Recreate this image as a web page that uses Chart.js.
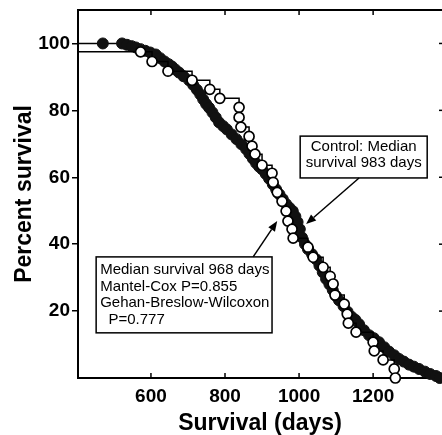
<!DOCTYPE html>
<html>
<head>
<meta charset="utf-8">
<script src="https://cdn.jsdelivr.net/npm/chart.js@4.4.1/dist/chart.umd.min.js"></script>
<style>
	html, body { margin: 0; padding: 0; background: #fff; }
	#survChart { display: block; }
</style>
</head>
<body>
<canvas id="survChart" width="442" height="435"></canvas>
<script>
// control group (filled circles), days / percent survival
const controlDays = [0, 470, 522, 535, 548, 559, 572, 585, 598, 613, 625, 637, 648, 657, 666, 676, 688, 703, 714, 724,
	733, 741, 749, 757, 766, 775, 784, 795, 805, 818, 831, 844, 857, 866, 875, 884, 892, 900, 910, 919,
	929, 938, 947, 956, 965, 974, 983, 990, 996, 1002, 1008, 1016, 1024, 1035, 1046, 1055, 1064, 1073, 1082, 1091,
	1100, 1108, 1120, 1131, 1142, 1152, 1162, 1175, 1189, 1202, 1216, 1230, 1243, 1257, 1270, 1283, 1297, 1310, 1324, 1340,
	1354, 1370, 1380];
const controlSurvival = [100, 100, 100, 99.6, 99.2, 98.8, 98.3, 97.8, 97.3, 96.7, 95.6, 94.6, 93.8, 93.1, 92.2, 91.3, 90.2, 89.0, 87.6, 86.2,
	84.8, 83.3, 81.9, 80.8, 79.4, 77.9, 76.4, 75.3, 74.3, 72.8, 71.4, 69.9, 68.4, 67.0, 65.6, 64.2, 63.2, 62.4, 61.0, 59.6,
	57.9, 56.4, 54.9, 53.5, 52.0, 50.9, 49.9, 48.3, 46.6, 44.5, 42.0, 40.0, 38.5, 37.0, 35.5, 33.6, 31.6, 29.6, 28.0, 26.3,
	24.5, 23.2, 21.5, 19.8, 18.3, 17.4, 16.1, 14.3, 12.8, 11.9, 10.7, 9.2, 7.9, 6.8, 5.7, 4.9, 4.0, 3.4, 2.7, 1.9,
	1.2, 0.6, 0];
// treated group (open circles)
const treatedDays = [0, 572, 603, 646, 711, 759, 786, 838, 838, 843, 865, 873, 881, 900, 927, 930, 941, 954, 965, 970,
	981, 984, 1024, 1038, 1065, 1084, 1092, 1097, 1122, 1130, 1133, 1154, 1200, 1203, 1227, 1257, 1260];
const treatedSurvival = [97.5, 97.5, 94.6, 91.7, 89.0, 86.3, 83.6, 80.9, 77.9, 75.0, 72.2, 69.3, 66.9, 63.6, 61.2, 58.5, 55.5, 52.8, 49.9, 46.9,
	44.5, 41.8, 39.1, 36.1, 33.1, 30.4, 28.1, 24.8, 22.1, 19.1, 16.4, 13.7, 10.7, 8.1, 5.4, 2.7, 0];

const xTicks = [600, 800, 1000, 1200];
const yTicks = [20, 40, 60, 80, 100];
const xTitle = 'Survival (days)';
const yTitle = 'Percent survival';
const controlNote = ['Control: Median', 'survival 983 days'];
const statsNote = ['Median survival 968 days', 'Mantel-Cox P=0.855', 'Gehan-Breslow-Wilcoxon', '  P=0.777'];

const X_MIN = 403, X_MAX = 1386, Y_MIN = 0, Y_MAX = 110;

// note boxes / arrows anchored in data units
const noteBoxes = [
	{ lines: controlNote, x0: 1003, x1: 1346, y0: 72.3, y1: 59.8, align: 'center' },
	{ lines: statsNote, x0: 452, x1: 927, y0: 36.2, y1: 13.5, align: 'left' }
];
const noteArrows = [
	{ from: [1162, 59.8], to: [1019, 46.0] },
	{ from: [876, 36.2], to: [941, 46.9] }
];

const toPoints = (xs, ys) => xs.map((x, i) => ({ x: x, y: ys[i] }));

// fixed box sizes, no label overflow padding
const fixBox = (w, h) => s => {
	if (w) s.width = w;
	if (h) s.height = h;
	s.paddingLeft = 0;
	s.paddingRight = 0;
	s.paddingTop = 0;
	s.paddingBottom = 0;
};

const notesPlugin = {
	id: 'notes',
	afterDraw(chart) {
		const ctx = chart.ctx;
		const area = chart.chartArea;
		const xs = chart.scales.x, ys = chart.scales.y;
		ctx.save();
		ctx.strokeStyle = '#000';
		ctx.lineWidth = 1.5;
		const seg = (a, b, c, d) => { ctx.beginPath(); ctx.moveTo(a, b); ctx.lineTo(c, d); ctx.stroke(); };
		// inward ticks: bottom, top, right
		xTicks.forEach(v => {
			const px = xs.getPixelForValue(v);
			seg(px, area.bottom, px, area.bottom - 5);
			seg(px, area.top, px, area.top + 5);
		});
		yTicks.forEach(v => {
			const py = ys.getPixelForValue(v);
			seg(area.right - 3, py, area.right, py);
		});

		// boxes
		ctx.font = '15px "Liberation Sans", Arial, sans-serif';
		ctx.textBaseline = 'middle';
		noteBoxes.forEach((b, bi) => {
			const l = xs.getPixelForValue(b.x0), r = xs.getPixelForValue(b.x1);
			const t = ys.getPixelForValue(b.y0), btm = ys.getPixelForValue(b.y1);
			ctx.fillStyle = '#fff';
			ctx.fillRect(l, t, r - l, btm - t);
			ctx.strokeRect(l, t, r - l, btm - t);
			ctx.fillStyle = '#000';
			const first = bi === 0 ? 11 : 13;
			const step = bi === 0 ? 16 : 16.6;
			b.lines.forEach((txt, i) => {
				if (b.align === 'center') {
					ctx.textAlign = 'center';
					ctx.fillText(txt, (l + r) / 2, t + first + i * step);
				} else {
					ctx.textAlign = 'left';
					ctx.fillText(txt, l + 4, t + first + i * step);
				}
			});
		});

		// arrows
		noteArrows.forEach(a => {
			const x1 = xs.getPixelForValue(a.from[0]), y1 = ys.getPixelForValue(a.from[1]);
			const x2 = xs.getPixelForValue(a.to[0]), y2 = ys.getPixelForValue(a.to[1]);
			const ang = Math.atan2(y2 - y1, x2 - x1);
			const len = 10, half = 4;
			const bx = x2 - len * Math.cos(ang), by = y2 - len * Math.sin(ang);
			seg(x1, y1, bx, by);
			ctx.beginPath();
			ctx.moveTo(x2, y2);
			ctx.lineTo(bx + half * Math.sin(ang), by - half * Math.cos(ang));
			ctx.lineTo(bx - half * Math.sin(ang), by + half * Math.cos(ang));
			ctx.closePath();
			ctx.fillStyle = '#000';
			ctx.fill();
		});
		ctx.restore();
	}
};

const tickFont = { family: '"Liberation Sans", Arial, sans-serif', size: 19, weight: 'bold' };
const titleFont = { family: '"Liberation Sans", Arial, sans-serif', size: 23, weight: 'bold', lineHeight: 1 };

new Chart(document.getElementById('survChart'), {
	type: 'line',
	data: {
		datasets: [
			{
				label: 'Treated',
				data: toPoints(treatedDays, treatedSurvival),
				stepped: true,
				borderColor: '#000',
				borderWidth: 1.5,
				pointRadius: c => c.dataIndex === 0 ? 0 : 5,
				pointBackgroundColor: '#fff',
				pointBorderColor: '#000',
				pointBorderWidth: 1.7,
				fill: false,
				order: 0,
				clip: { left: 0, top: 10, right: false, bottom: false }
			},
			{
				label: 'Control',
				data: toPoints(controlDays, controlSurvival),
				stepped: true,
				borderColor: '#000',
				borderWidth: 1.5,
				pointRadius: c => c.dataIndex === 0 ? 0 : 5.5,
				pointBackgroundColor: '#111',
				pointBorderColor: '#111',
				pointBorderWidth: 1,
				fill: false,
				order: 1,
				clip: { left: 0, top: 10, right: false, bottom: false }
			}
		]
	},
	options: {
		responsive: false,
		animation: false,
		events: [],
		layout: { padding: 0, autoPadding: false },
		plugins: {
			legend: { display: false },
			tooltip: { enabled: false }
		},
		scales: {
			x: {
				type: 'linear',
				position: 'bottom',
				min: X_MIN,
				max: X_MAX,
				afterBuildTicks: s => { s.ticks = xTicks.map(v => ({ value: v })); },
				afterFit: fixBox(0, 57),
				ticks: { font: tickFont, color: '#000', padding: 7, maxRotation: 0, callback: v => String(v) },
				grid: { display: false, drawTicks: false },
				border: { display: true, color: '#000', width: 2 },
				title: { display: true, text: xTitle, font: titleFont, color: '#000', padding: { top: 0, bottom: 0 } }
			},
			xTop: {
				type: 'linear',
				position: 'top',
				min: X_MIN,
				max: X_MAX,
				afterFit: fixBox(0, 10),
				ticks: { display: false },
				grid: { display: false, drawTicks: false },
				border: { display: true, color: '#000', width: 2 }
			},
			y: {
				type: 'linear',
				min: Y_MIN,
				max: Y_MAX,
				afterBuildTicks: s => { s.ticks = yTicks.map(v => ({ value: v })); },
				afterFit: fixBox(78, 0),
				ticks: { font: tickFont, color: '#000', padding: 2, callback: v => String(v) },
				grid: { display: true, drawOnChartArea: false, drawTicks: true, tickLength: 6, color: '#000', lineWidth: 1.5 },
				border: { display: true, color: '#000', width: 2 },
				title: { display: true, text: yTitle, font: titleFont, color: '#000', padding: { top: 13, bottom: 0 } }
			}
		}
	},
	plugins: [notesPlugin]
});
</script>
</body>
</html>
